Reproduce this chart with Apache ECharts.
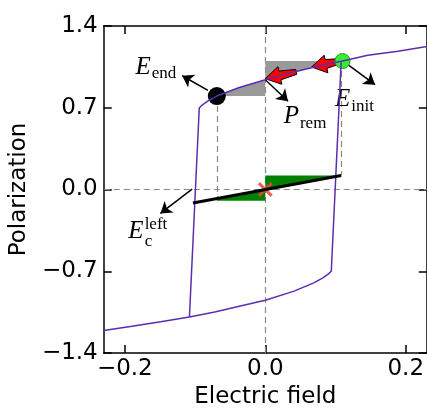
<!DOCTYPE html>
<html>
<head>
<meta charset="utf-8">
<script src="https://cdn.jsdelivr.net/npm/echarts@6/dist/echarts.min.js"></script>
<style>
  html, body { margin: 0; padding: 0; background: #fff; }
  #chart { width: 427px; height: 414px; }
</style>
</head>
<body>
<div id="chart"></div>
<script>
// Hysteresis loop (electric field, polarization)
var upperBranch = [
  [0.23, 1.224], [0.189, 1.183], [0.146, 1.149], [0.11, 1.10], [0.076, 1.057],
  [0.041, 1.007], [0, 0.94], [-0.037, 0.873], [-0.069, 0.80], [-0.082, 0.756],
  [-0.09, 0.723], [-0.094, 0.698], [-0.108, -1.091], [-0.149, -1.133],
  [-0.192, -1.174], [-0.23, -1.208]
];
var lowerBranch = [
  [-0.108, -1.091], [-0.072, -1.049], [-0.037, -0.999], [0, -0.949], [0.041, -0.87],
  [0.069, -0.80], [0.082, -0.756], [0.09, -0.723], [0.094, -0.698], [0.108, 1.09]
];

// shaded areas
var grayAreas = [
  [[0, 1.10], [0.11, 1.10], [0.076, 1.057], [0.041, 1.007], [0, 0.94]],
  [[-0.069, 0.80], [0, 0.80], [0, 0.94], [-0.037, 0.873]]
];
var greenAreas = [
  [[0, 0], [0, 0.12], [0.108, 0.12]],
  [[-0.069, -0.096], [0, -0.096], [0, 0], [-0.069, -0.077]]
];

var coerciveLine = [[-0.103, -0.115], [0.108, 0.12]];
var endPoint = [-0.069, 0.80];
var initPoint = [0.11, 1.10];
var crossPoint = [0, 0];

var guideLines = [
  [[-0.23, 0], [0.23, 0]],
  [[0, -1.4], [0, 1.4]],
  [[-0.069, 0.80], [-0.069, -0.096]],
  [[0.108, 1.10], [0.108, 0.12]]
];

// red arrows: [tail, head]
var redArrows = [
  [[0.107, 1.10], [0.066, 1.049]],
  [[0.044, 1.007], [0, 0.949]]
];
// annotation arrows: [tail, head]
var noteArrows = [
  [[-0.0817, 0.848], [-0.1183, 0.974]],
  [[0, 0.94], [0.0324, 0.756]],
  [[0.1127, 1.091], [0.1563, 0.898]],
  [[-0.1042, 0.004], [-0.1493, -0.205]]
];
// annotation labels: [x, y, letter, subscript, superscript]
var noteLabels = [
  [-0.163, 1.049, 'E', 'end', ''],
  [0.0479, 0.623, 'P', 'rem', ''],
  [0.1211, 0.773, 'E', 'init', ''],
  [-0.1732, -0.359, 'E', 'c', 'left']
];

var xTicks = [-0.2, 0, 0.2];

var chart = echarts.init(document.getElementById('chart'), null, { renderer: 'canvas' });

function tickText(v) {
  return v.toFixed(1).replace('-', '\u2212');
}

var labelFont = { fontFamily: 'DejaVu Sans', fontSize: 23, color: '#000' };

function areaItem(list, color) {
  return function (params, api) {
    var pts = list[params.dataIndex].map(function (p) { return api.coord(p); });
    return { type: 'polygon', shape: { points: pts }, style: { fill: color } };
  };
}

function fancyArrow(params, api) {
  var a = redArrows[params.dataIndex];
  var t = api.coord(a[0]), h = api.coord(a[1]);
  var dx = h[0] - t[0], dy = h[1] - t[1];
  var len = Math.sqrt(dx * dx + dy * dy);
  var ux = dx / len, uy = dy / len, nx = -uy, ny = ux;
  var hl = Math.min(15, len * 0.5), hw = 9, nw = 4.5, tw = 2.5;
  var bx = h[0] - ux * hl, by = h[1] - uy * hl;
  var pts = [
    h,
    [bx + nx * hw, by + ny * hw],
    [bx + nx * nw, by + ny * nw],
    [t[0] + nx * tw, t[1] + ny * tw],
    [t[0] - nx * tw, t[1] - ny * tw],
    [bx - nx * nw, by - ny * nw],
    [bx - nx * hw, by - ny * hw]
  ];
  return { type: 'polygon', shape: { points: pts }, style: { fill: '#ff0000', stroke: '#000', lineWidth: 1 } };
}

function noteText(params, api) {
  var l = noteLabels[params.dataIndex];
  var p = api.coord([l[0], l[1]]);
  var kids = [{
    type: 'text', x: p[0], y: p[1],
    style: { text: l[2], font: 'italic 25px "Liberation Serif"', fill: '#000', align: 'right', verticalAlign: 'middle' }
  }];
  if (l[3]) {
    kids.push({
      type: 'text', x: p[0] + 1, y: p[1] + (l[4] ? 10 : 7),
      style: { text: l[3], font: '17px "Liberation Serif"', fill: '#000', align: 'left', verticalAlign: 'middle' }
    });
  }
  if (l[4]) {
    kids.push({
      type: 'text', x: p[0] + 1, y: p[1] - 7,
      style: { text: l[4], font: '17px "Liberation Serif"', fill: '#000', align: 'left', verticalAlign: 'middle' }
    });
  }
  return { type: 'group', children: kids };
}

var axisLineStyle = { color: '#000', width: 1.5 };
var tickStyle = { inside: true, length: 8, lineStyle: { color: '#000', width: 1.5 } };

var option = {
  animation: false,
  grid: { left: 103, top: 26, width: 326.6, height: 335, containLabel: false },
  xAxis: [
    {
      type: 'value', min: -0.23, max: 0.23, position: 'bottom',
      axisLine: { onZero: false, lineStyle: axisLineStyle },
      axisTick: Object.assign({ customValues: xTicks }, tickStyle),
      axisLabel: Object.assign({ customValues: xTicks, formatter: tickText, margin: 5 }, labelFont),
      splitLine: { show: false },
      name: 'Electric field', nameLocation: 'middle', nameGap: 33,
      nameTextStyle: labelFont
    },
    {
      type: 'value', min: -0.23, max: 0.23, position: 'top',
      axisLine: { onZero: false, lineStyle: axisLineStyle },
      axisTick: Object.assign({ customValues: xTicks }, tickStyle),
      axisLabel: { show: false },
      splitLine: { show: false }
    }
  ],
  yAxis: [
    {
      type: 'value', min: -1.4, max: 1.4, interval: 0.7, position: 'left',
      axisLine: { onZero: false, lineStyle: axisLineStyle },
      axisTick: tickStyle,
      axisLabel: Object.assign({ formatter: tickText, margin: 6 }, labelFont),
      splitLine: { show: false },
      name: 'Polarization', nameLocation: 'middle', nameGap: 67,
      nameTextStyle: labelFont
    },
    {
      type: 'value', min: -1.4, max: 1.4, interval: 0.7, position: 'right',
      axisLine: { onZero: false, lineStyle: axisLineStyle },
      axisTick: tickStyle,
      axisLabel: { show: false },
      splitLine: { show: false }
    }
  ],
  series: [
    {
      type: 'lines', coordinateSystem: 'cartesian2d', silent: true,
      lineStyle: { color: '#888', width: 1.2, type: [6, 4], opacity: 1 },
      data: guideLines.map(function (c) { return { coords: c }; })
    },
    {
      type: 'custom', renderItem: areaItem(grayAreas, '#999999'), silent: true,
      data: grayAreas.map(function (a) { return a[0]; })
    },
    {
      type: 'custom', renderItem: areaItem(greenAreas, '#008000'), silent: true,
      data: greenAreas.map(function (a) { return a[0]; })
    },
    {
      type: 'line', data: upperBranch, showSymbol: false, silent: true,
      lineStyle: { color: '#5b2db0', width: 1.5 }
    },
    {
      type: 'line', data: lowerBranch, showSymbol: false, silent: true,
      lineStyle: { color: '#5b2db0', width: 1.5 }
    },
    {
      type: 'line', data: coerciveLine, showSymbol: false, silent: true,
      lineStyle: { color: '#000', width: 3 }
    },
    {
      type: 'scatter', data: [crossPoint], silent: true,
      symbol: 'path://M0,2L2,0L7,5L12,0L14,2L9,7L14,12L12,14L7,9L2,14L0,12L5,7Z',
      symbolSize: 15, itemStyle: { color: '#e8453c', opacity: 0.85 }
    },
    {
      type: 'scatter', data: [endPoint], silent: true, symbolSize: 18,
      itemStyle: { color: '#000', opacity: 1 }
    },
    {
      type: 'scatter', data: [initPoint], silent: true, symbolSize: 15,
      itemStyle: { color: '#33ee33', borderColor: '#22a022', borderWidth: 1, opacity: 1 }
    },
    {
      type: 'custom', renderItem: fancyArrow, silent: true,
      data: redArrows.map(function (a) { return a[1]; })
    },
    {
      type: 'lines', coordinateSystem: 'cartesian2d', silent: true,
      symbol: ['none', 'arrow'], symbolSize: 11,
      lineStyle: { color: '#000', width: 1.5, opacity: 1 },
      data: noteArrows.map(function (c) { return { coords: c }; })
    },
    {
      type: 'custom', renderItem: noteText, silent: true, clip: false,
      data: noteLabels.map(function (l) { return [l[0], l[1]]; })
    }
  ]
};

chart.setOption(option);
</script>
</body>
</html>
